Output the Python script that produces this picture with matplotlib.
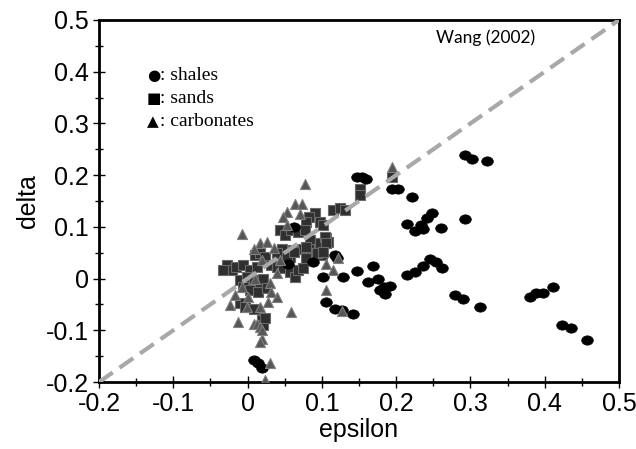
import matplotlib
matplotlib.use("Agg")
import matplotlib.pyplot as plt
from matplotlib.path import Path
from matplotlib.transforms import Affine2D
from matplotlib.ticker import MultipleLocator

# shales (black dots)
shale_eps = [0.293, 0.302, 0.322, 0.147, 0.154, 0.160, 0.194, 0.203, 0.221, 0.293,
             0.248, 0.241, 0.234, 0.225, 0.236, 0.214, 0.261,
             0.246, 0.254, 0.236, 0.225, 0.214, 0.262,
             0.279, 0.290, 0.313, 0.380, 0.388, 0.397, 0.411, 0.423, 0.436, 0.457,
             0.169, 0.147, 0.129, 0.102, 0.162, 0.176, 0.183, 0.192, 0.185, 0.178,
             0.106, 0.118, 0.127, 0.142, 0.008, 0.014, 0.020,
             0.062, 0.055, 0.088, 0.118, 0.120]
shale_delta = [0.239, 0.232, 0.228, 0.197, 0.197, 0.192, 0.174, 0.174, 0.158, 0.115,
               0.126, 0.118, 0.103, 0.092, 0.095, 0.105, 0.098,
               0.037, 0.033, 0.024, 0.013, 0.007, 0.020,
               -0.032, -0.040, -0.055, -0.036, -0.027, -0.027, -0.016, -0.089, -0.095, -0.119,
               0.024, 0.014, 0.003, 0.003, -0.006, 0.000, -0.016, -0.015, -0.029, -0.022,
               -0.045, -0.058, -0.061, -0.069, -0.158, -0.164, -0.172,
               0.100, 0.029, 0.033, 0.045, 0.039]

# sands (squares)
sand_eps = [0.194, 0.151, 0.151, 0.091, 0.082, 0.079, 0.097, 0.102, 0.115, 0.124, 0.131,
            0.044, 0.050, 0.059, 0.068, 0.077, 0.084, 0.082, 0.097, 0.106, 0.108,
            0.071, 0.061, 0.046, 0.039, 0.010, 0.023, 0.057, 0.100, 0.088, 0.104,
            -0.028, -0.021, -0.033, -0.015, -0.006, 0.003, 0.012, 0.017, 0.023, 0.032,
            0.039, 0.048, 0.057, 0.064, 0.068, 0.075, 0.053, 0.062, 0.079, 0.093, 0.106,
            -0.010, -0.001, 0.008, 0.017, 0.021, -0.006, 0.003, 0.014, 0.026,
            -0.010, -0.003, 0.008, 0.019, 0.021, 0.023, 0.079, 0.102]
sand_delta = [0.197, 0.174, 0.161, 0.126, 0.120, 0.110, 0.110, 0.103, 0.133, 0.136, 0.133,
              0.094, 0.084, 0.094, 0.090, 0.094, 0.074, 0.058, 0.068, 0.078, 0.071,
              0.058, 0.055, 0.058, 0.049, 0.045, 0.039, 0.042, 0.045, 0.049, 0.081,
              0.026, 0.016, 0.016, 0.023, 0.026, 0.016, 0.023, 0.049, 0.042, 0.026,
              0.023, 0.020, 0.013, 0.004, 0.016, 0.020, 0.042, 0.052, 0.061, 0.049, 0.068,
              -0.003, 0.004, -0.003, -0.009, 0.000, -0.016, -0.022, -0.025, -0.019,
              -0.048, -0.055, -0.058, -0.080, -0.090, -0.077, 0.039, 0.052]

# carbonates (triangles)
carb_eps = [0.194, 0.077, 0.064, 0.073, 0.053, 0.071, 0.048, -0.007, 0.053, 0.017, 0.026,
            0.008, 0.106, 0.106, 0.115, 0.122, 0.127, 0.059, -0.013, -0.001, 0.017,
            0.028, 0.039, -0.024, 0.008, 0.012, 0.019, 0.017, 0.017, 0.019, -0.017,
            -0.008, 0.001, 0.030, 0.032, 0.019, 0.044, 0.010, 0.023, 0.030, 0.040, 0.035]
carb_delta = [0.216, 0.183, 0.145, 0.145, 0.129, 0.125, 0.120, 0.087, 0.103, 0.068, 0.071,
              0.058, -0.022, 0.029, 0.016, 0.039, -0.062, -0.064, -0.084, -0.055, -0.055,
              -0.045, -0.035, -0.051, -0.087, -0.087, -0.116, -0.093, -0.122, -0.100, -0.032,
              -0.016, -0.035, -0.009, -0.025, 0.036, 0.036, 0.000, -0.196, -0.163, 0.010, 0.060]

tick_vals = [-0.2, -0.1, 0, 0.1, 0.2, 0.3, 0.4, 0.5]
tick_text = ["-0.2", "-0.1", "0", "0.1", "0.2", "0.3", "0.4", "0.5"]
legend_marks = ["\u25cf", "\u25a0", "\u25b2"]
legend_names = [": shales", ": sands", ": carbonates"]

fig = plt.figure(figsize=(6.36, 4.49), dpi=100)
ax = fig.add_axes([0.1557, 0.1492, 0.8176, 0.8063])

oval = Path.unit_circle().transformed(Affine2D().scale(1.25, 1.0))

ax.scatter(sand_eps, sand_delta, marker="s", s=52, c="#2f2f2f",
           edgecolors="#6a6a6a", linewidths=0.8, zorder=2)
ax.scatter(shale_eps, shale_delta, marker=oval, s=70, c="black",
           edgecolors="black", linewidths=0.5, zorder=3)
ax.scatter(carb_eps, carb_delta, marker="^", s=52, c="#565656",
           edgecolors="#808080", linewidths=0.8, zorder=4)
ax.plot([-0.2, 0.5], [-0.2, 0.5], color="#a8a8a8", lw=3, dashes=(4, 2), zorder=5)

ax.set_xlim(-0.2, 0.5)
ax.set_ylim(-0.2, 0.5)
ax.set_xticks(tick_vals)
ax.set_xticklabels(tick_text)
ax.set_yticks(tick_vals)
ax.set_yticklabels(tick_text)
ax.xaxis.set_minor_locator(MultipleLocator(0.05))
ax.yaxis.set_minor_locator(MultipleLocator(0.05))
ax.tick_params(which="major", direction="inout", length=9, width=1.0,
               labelsize=18, pad=3)
ax.tick_params(which="minor", direction="inout", length=6, width=1.0)
for lab in ax.get_xticklabels() + ax.get_yticklabels():
    lab.set_family("Liberation Sans")
for sp in ax.spines.values():
    sp.set_linewidth(2)

ax.set_xlabel("epsilon", family="Liberation Sans", fontsize=18, labelpad=1)
ax.set_ylabel("delta", family="Liberation Sans", fontsize=18, labelpad=4)

# text legend: glyph then name
for i, (mk, name) in enumerate(zip(legend_marks, legend_names)):
    yy = 0.848 - i * 0.064
    ax.text(0.092, yy, mk, transform=ax.transAxes, family="DejaVu Sans",
            fontsize=11, va="center")
    ax.text(0.117, yy, name, transform=ax.transAxes, family="Liberation Serif",
            fontsize=14, va="center")
ax.text(0.838, 0.950, "Wang (2002)", transform=ax.transAxes, family="Lato",
        fontsize=12.5, ha="right", va="center")

fig.savefig("out.png", dpi=100)
